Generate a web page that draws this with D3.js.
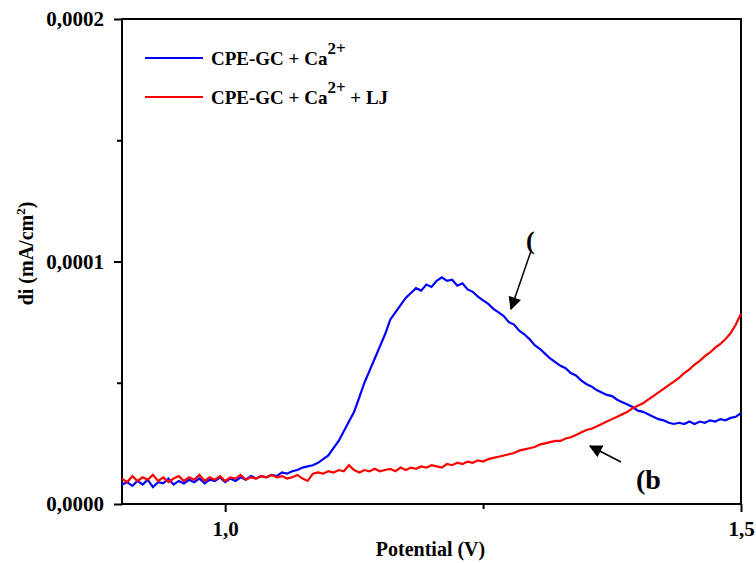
<!DOCTYPE html>
<html>
<head>
<meta charset="utf-8">
<script src="https://cdn.jsdelivr.net/npm/d3@7"></script>
<style>
  body { margin: 0; background: #fff; }
  text { font-family: "Liberation Serif", "Times New Roman", serif; font-weight: bold; }
</style>
</head>
<body>
<div id="chart"></div>
<script>
// Data (current in units of 1e-5 mA/cm2, potential step 0.005 V from 0.9 V)
const potentialStart = 0.9,
    potentialStep = 0.005;

const blueValues = [
    0.8, 0.9, 0.75, 0.95, 0.8, 1.0, 0.7, 0.9, 0.85, 1.05,
    0.8, 0.95, 0.85, 1.0, 0.9, 1.05, 0.85, 1.0, 0.95, 1.1,
    0.9, 1.05, 0.95, 1.1, 1.0, 1.15, 1.05, 1.15, 1.1, 1.2,
    1.15, 1.3, 1.25, 1.35, 1.4, 1.5, 1.55, 1.6, 1.7, 1.85,
    2.0, 2.3, 2.6, 3.0, 3.4, 3.8, 4.4, 5.0, 5.5, 6.0,
    6.5, 7.0, 7.6, 7.9, 8.2, 8.5, 8.7, 8.9, 8.8, 9.05,
    8.95, 9.2, 9.35, 9.2, 9.25, 9.0, 9.1, 8.85, 8.75, 8.55,
    8.4, 8.25, 8.05, 7.9, 7.75, 7.5, 7.4, 7.15, 7.0, 6.8,
    6.55, 6.4, 6.2, 6.0, 5.85, 5.7, 5.6, 5.4, 5.3, 5.1,
    4.95, 4.85, 4.7, 4.6, 4.5, 4.45, 4.3, 4.2, 4.1, 4.0,
    3.85, 3.8, 3.7, 3.6, 3.5, 3.45, 3.35, 3.3, 3.35, 3.3,
    3.4, 3.3, 3.4, 3.35, 3.45, 3.4, 3.5, 3.45, 3.55, 3.6,
    3.75
];

const redValues = [
    1.05, 0.9, 1.15, 0.95, 1.1, 1.0, 1.2, 0.95, 1.1, 0.9,
    1.05, 1.15, 0.95, 1.1, 1.0, 1.2, 0.95, 1.1, 1.0, 1.15,
    0.95, 1.1, 1.05, 1.2, 1.0, 1.1, 1.05, 1.15, 1.1, 1.2,
    1.1, 1.15, 1.05, 1.1, 1.2, 1.05, 0.95, 1.25, 1.3, 1.25,
    1.35, 1.3, 1.4, 1.35, 1.6, 1.4, 1.3, 1.4, 1.35, 1.45,
    1.35, 1.4, 1.45, 1.35, 1.5, 1.4, 1.5, 1.45, 1.55, 1.5,
    1.6, 1.55, 1.5, 1.65, 1.6, 1.7, 1.65, 1.75, 1.7, 1.8,
    1.75, 1.85, 1.9, 1.95, 2.0, 2.05, 2.1, 2.2, 2.25, 2.3,
    2.35, 2.45, 2.5, 2.55, 2.6, 2.6, 2.7, 2.75, 2.85, 2.95,
    3.05, 3.1, 3.2, 3.3, 3.4, 3.5, 3.6, 3.7, 3.8, 3.95,
    4.05, 4.15, 4.3, 4.45, 4.6, 4.75, 4.9, 5.05, 5.2, 5.4,
    5.55, 5.75, 5.9, 6.1, 6.25, 6.45, 6.6, 6.8, 7.05, 7.4,
    7.85
];

const yTicks = [0, 0.0001, 0.0002];
const yMinorTicks = [0.00005, 0.00015];
const xTicks = [1.0, 1.5];
const xMinorTicks = [1.25];

// Layout
const width = 756, height = 563;
const margin = { left: 122, top: 19, right: 15, bottom: 59 };
const plotW = width - margin.left - margin.right,
    plotH = height - margin.top - margin.bottom;

const svg = d3.select("#chart").append("svg")
    .attr("width", width)
    .attr("height", height);

const x = d3.scaleLinear().domain([0.9, 1.5]).range([margin.left, margin.left + plotW]);
const y = d3.scaleLinear().domain([0, 0.0002]).range([margin.top + plotH, margin.top]);

const toPoints = vals => vals.map((v, i) => [potentialStart + i * potentialStep, v * 1e-5]);

const line = d3.line().x(d => x(d[0])).y(d => y(d[1]));

// Frame
svg.append("rect")
    .attr("x", margin.left)
    .attr("y", margin.top)
    .attr("width", plotW)
    .attr("height", plotH)
    .attr("fill", "none")
    .attr("stroke", "#000")
    .attr("stroke-width", 2);

// Axes
const fmtY = d => d3.format(".4f")(d).replace(".", ",");
const fmtX = d => d3.format(".1f")(d).replace(".", ",");

svg.append("g")
    .attr("transform", `translate(${margin.left},0)`)
    .call(d3.axisLeft(y).tickValues(yTicks).tickFormat(fmtY).tickSize(8).tickPadding(10));
svg.append("g")
    .attr("transform", `translate(${margin.left},0)`)
    .call(d3.axisLeft(y).tickValues(yMinorTicks).tickFormat("").tickSize(5));

svg.append("g")
    .attr("transform", `translate(0,${margin.top + plotH})`)
    .call(d3.axisBottom(x).tickValues(xTicks).tickFormat(fmtX).tickSize(8).tickPadding(9));
svg.append("g")
    .attr("transform", `translate(0,${margin.top + plotH})`)
    .call(d3.axisBottom(x).tickValues(xMinorTicks).tickFormat("").tickSize(5));

svg.selectAll(".domain").remove();
svg.selectAll(".tick line").attr("stroke", "#000").attr("stroke-width", 2);
svg.selectAll(".tick text")
    .attr("fill", "#000")
    .style("font-size", "21px");

// Axis titles
svg.append("text")
    .attr("x", margin.left + plotW / 2 - 1)
    .attr("y", 556)
    .attr("text-anchor", "middle")
    .style("font-size", "20px")
    .text("Potential (V)");

const yTitle = svg.append("text")
    .attr("transform", `translate(33,${margin.top + plotH / 2 - 8}) rotate(-90)`)
    .attr("text-anchor", "middle")
    .style("font-size", "20px");
yTitle.append("tspan").text("di (mA/cm");
yTitle.append("tspan").attr("dy", -8).style("font-size", "13px").text("2");
yTitle.append("tspan").attr("dy", 8).text(")");

// Curves
svg.append("path")
    .datum(toPoints(blueValues))
    .attr("fill", "none")
    .attr("stroke", "#0000ff")
    .attr("stroke-width", 2.2)
    .attr("d", line);

svg.append("path")
    .datum(toPoints(redValues))
    .attr("fill", "none")
    .attr("stroke", "#ff0000")
    .attr("stroke-width", 2.2)
    .attr("d", line);

// Legend
const legendItems = [
    { color: "#0000ff", label: "CPE-GC + Ca", tail: "" },
    { color: "#ff0000", label: "CPE-GC + Ca", tail: " + LJ" }
];
legendItems.forEach((d, i) => {
    const ly = 58 + i * 39;
    svg.append("line")
        .attr("x1", 145).attr("x2", 203)
        .attr("y1", ly).attr("y2", ly)
        .attr("stroke", d.color)
        .attr("stroke-width", 2.2);
    const t = svg.append("text")
        .attr("x", 211)
        .attr("y", ly + 7)
        .style("font-size", "19px");
    t.append("tspan").text(d.label);
    t.append("tspan").attr("dy", -11).style("font-size", "17px").text("2+");
    if (d.tail) t.append("tspan").attr("dy", 11).text(d.tail);
});

// Annotations
const defs = svg.append("defs");
defs.append("marker")
    .attr("id", "head")
    .attr("viewBox", "0 0 10 10")
    .attr("refX", 9).attr("refY", 5)
    .attr("markerWidth", 14).attr("markerHeight", 13)
    .attr("markerUnits", "userSpaceOnUse")
    .attr("orient", "auto")
    .append("path")
    .attr("d", "M0,0 L10,5 L0,10 Z")
    .attr("fill", "#000");

const arrows = [
    { x1: 531, y1: 251, x2: 511, y2: 309 },
    { x1: 621, y1: 462, x2: 590, y2: 446 }
];
arrows.forEach(a => {
    svg.append("line")
        .attr("x1", a.x1).attr("y1", a.y1)
        .attr("x2", a.x2).attr("y2", a.y2)
        .attr("stroke", "#000")
        .attr("stroke-width", 1.5)
        .attr("marker-end", "url(#head)");
});

svg.append("text")
    .attr("x", 526).attr("y", 249)
    .style("font-size", "26px")
    .text("(");

svg.append("text")
    .attr("x", 636).attr("y", 489)
    .style("font-size", "28px")
    .text("(b");
</script>
</body>
</html>
